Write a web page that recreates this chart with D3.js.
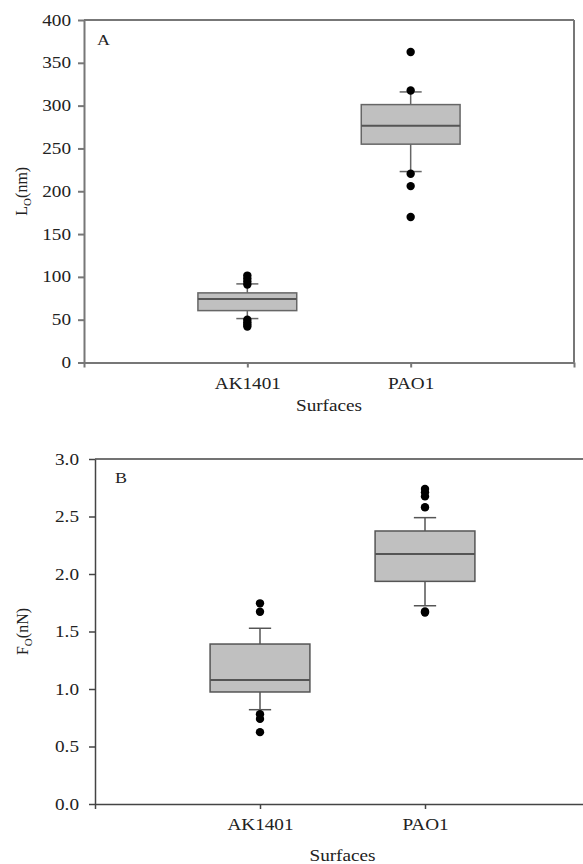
<!DOCTYPE html>
<html>
<head>
<meta charset="utf-8">
<script src="https://cdn.jsdelivr.net/npm/d3@7"></script>
<style>
  body { margin: 0; background: #fff; }
  svg, svg text { font-family: "Liberation Serif", "Times New Roman", "DejaVu Serif", serif !important; }
</style>
</head>
<body>
<script>
// categories on the x axis
var categories = ["AK1401", "PAO1"];

// panel A : Lo (nm)
var loQ1 = [60.6, 255];
var loMedian = [74.3, 276.4];
var loQ3 = [81.3, 301.2];
var loWhiskerLow = [51.3, 223];
var loWhiskerHigh = [91.8, 316];
var loOutliers = [[101.5, 98, 94.5, 91, 50, 47, 44.5, 42], [362.7, 317.6, 220.4, 206, 170]];
var loTicks = [0, 50, 100, 150, 200, 250, 300, 350, 400];

// panel B : Fo (nN)
var foQ1 = [0.974, 1.936];
var foMedian = [1.078, 2.174];
var foQ3 = [1.391, 2.374];
var foWhiskerLow = [0.82, 1.724];
var foWhiskerHigh = [1.528, 2.49];
var foOutliers = [[1.745, 1.672, 0.78, 0.74, 0.625], [2.74, 2.71, 2.675, 2.58, 1.675, 1.665]];
var foTicks = [0, 0.5, 1.0, 1.5, 2.0, 2.5, 3.0];

var serif = "'Liberation Serif', 'Times New Roman', 'DejaVu Serif', serif";

var svg = d3.select("body").append("svg")
  .attr("width", 583)
  .attr("height", 864)
  .attr("font-family", serif);

// tekst i figuren er bredere end normalt -> strækkes vandret
var stretch = 1.2;
function stretchText(sel) {
  sel.each(function() {
    var t = d3.select(this);
    var x = +t.attr("x") || 0;
    t.attr("transform", "translate(" + x + ",0) scale(" + stretch + ",1) translate(" + (-x) + ",0)");
  });
}

function drawPanel(p) {
  var g = svg.append("g").attr("transform", "translate(" + p.left + "," + p.top + ")");
  var w = p.width, h = p.height;

  var x = d3.scaleLinear().domain([0, 3]).range([0, w]);
  var y = d3.scaleLinear().domain([0, p.max]).range([h, 0]);

  // ramme (top + højre)
  g.append("line").attr("x1", 0).attr("x2", w).attr("y1", 0).attr("y2", 0)
    .attr("stroke", p.lineColor).attr("stroke-width", p.lineWidth);
  g.append("line").attr("x1", w).attr("x2", w).attr("y1", 0).attr("y2", h)
    .attr("stroke", p.lineColor).attr("stroke-width", p.lineWidth);

  // y-akse
  var yAxis = g.append("g")
    .call(d3.axisLeft(y).tickValues(p.ticks).tickFormat(p.fmt).tickSize(6).tickSizeOuter(0).tickPadding(p.yPad));
  yAxis.attr("font-family", serif).attr("font-size", 16);
  yAxis.select(".domain").attr("stroke", p.lineColor).attr("stroke-width", p.lineWidth);
  yAxis.selectAll(".tick line").attr("stroke", p.lineColor).attr("stroke-width", p.lineWidth);
  yAxis.selectAll(".tick text").attr("fill", "#222").call(stretchText);

  // x-akse
  var xAxis = g.append("g").attr("transform", "translate(0," + h + ")")
    .call(d3.axisBottom(x).tickValues([0, 1, 2, 3])
      .tickFormat(function(d) { return categories[d - 1] || ""; })
      .tickSize(5).tickSizeOuter(0).tickPadding(10));
  xAxis.attr("font-family", serif).attr("font-size", 16);
  xAxis.select(".domain").attr("stroke", p.lineColor).attr("stroke-width", p.lineWidth);
  xAxis.selectAll(".tick line").attr("stroke", p.lineColor).attr("stroke-width", p.lineWidth);
  xAxis.selectAll(".tick text").attr("fill", "#222").call(stretchText);

  // bokse
  var step = x(1) - x(0);
  var boxW = step * 0.605;
  var capW = step * 0.135;
  var data = categories.map(function(c, i) {
    return { name: c, pos: i + 1, q1: p.q1[i], med: p.median[i], q3: p.q3[i], lo: p.wLow[i], hi: p.wHigh[i], out: p.outliers[i] };
  });

  var box = g.selectAll(".box").data(data).enter().append("g").attr("class", "box");

  box.append("line")
    .attr("x1", function(d) { return x(d.pos); })
    .attr("x2", function(d) { return x(d.pos); })
    .attr("y1", function(d) { return y(d.hi); })
    .attr("y2", function(d) { return y(d.q3); })
    .attr("stroke", p.boxStroke).attr("stroke-width", 1.5);
  box.append("line")
    .attr("x1", function(d) { return x(d.pos); })
    .attr("x2", function(d) { return x(d.pos); })
    .attr("y1", function(d) { return y(d.q1); })
    .attr("y2", function(d) { return y(d.lo); })
    .attr("stroke", p.boxStroke).attr("stroke-width", 1.5);
  ["hi", "lo"].forEach(function(k) {
    box.append("line")
      .attr("x1", function(d) { return x(d.pos) - capW / 2; })
      .attr("x2", function(d) { return x(d.pos) + capW / 2; })
      .attr("y1", function(d) { return y(d[k]); })
      .attr("y2", function(d) { return y(d[k]); })
      .attr("stroke", p.boxStroke).attr("stroke-width", 1.5);
  });

  box.append("rect")
    .attr("x", function(d) { return x(d.pos) - boxW / 2; })
    .attr("y", function(d) { return y(d.q3); })
    .attr("width", boxW)
    .attr("height", function(d) { return y(d.q1) - y(d.q3); })
    .attr("fill", "#c0c0c0")
    .attr("stroke", p.boxStroke).attr("stroke-width", 1.5);

  box.append("line")
    .attr("x1", function(d) { return x(d.pos) - boxW / 2; })
    .attr("x2", function(d) { return x(d.pos) + boxW / 2; })
    .attr("y1", function(d) { return y(d.med); })
    .attr("y2", function(d) { return y(d.med); })
    .attr("stroke", "#555").attr("stroke-width", 2);

  box.selectAll("circle")
    .data(function(d) { return d.out.map(function(v) { return { pos: d.pos, v: v }; }); })
    .enter().append("circle")
    .attr("cx", function(d) { return x(d.pos); })
    .attr("cy", function(d) { return y(d.v); })
    .attr("r", 4.2)
    .attr("fill", "#000");

  // panelbogstav
  g.append("text").attr("x", p.letterX).attr("y", p.letterY)
    .attr("font-size", 15).attr("fill", "#222").text(p.letter).call(stretchText);

  // x-titel
  g.append("text").attr("x", w / 2).attr("y", h + p.xTitleDy)
    .attr("text-anchor", "middle").attr("font-size", 16).attr("fill", "#222")
    .text("Surfaces").call(stretchText);

  // y-titel med subscript
  var yt = g.append("text")
    .attr("transform", "translate(" + p.yTitleX + "," + (h / 2) + ") rotate(-90)")
    .attr("text-anchor", "middle").attr("font-size", 16).attr("fill", "#222");
  yt.append("tspan").text(p.yVar);
  yt.append("tspan").attr("font-size", 11).attr("dy", 4).text("O");
  yt.append("tspan").attr("dy", -4).text(p.yUnit);
}

drawPanel({
  left: 84, top: 20, width: 490, height: 342.5, max: 400,
  ticks: loTicks, fmt: d3.format("d"), yPad: 7,
  q1: loQ1, median: loMedian, q3: loQ3, wLow: loWhiskerLow, wHigh: loWhiskerHigh, outliers: loOutliers,
  lineColor: "#777", lineWidth: 2, boxStroke: "#666",
  letter: "A", letterX: 13, letterY: 25,
  xTitleDy: 49, yTitleX: -57, yVar: "L", yUnit: "(nm)"
});

drawPanel({
  left: 95, top: 459, width: 495, height: 345, max: 3,
  ticks: foTicks, fmt: d3.format(".1f"), yPad: 10,
  q1: foQ1, median: foMedian, q3: foQ3, wLow: foWhiskerLow, wHigh: foWhiskerHigh, outliers: foOutliers,
  lineColor: "#444", lineWidth: 1.5, boxStroke: "#555",
  letter: "B", letterX: 20, letterY: 24,
  xTitleDy: 57, yTitleX: -67, yVar: "F", yUnit: "(nN)"
});
</script>
</body>
</html>
